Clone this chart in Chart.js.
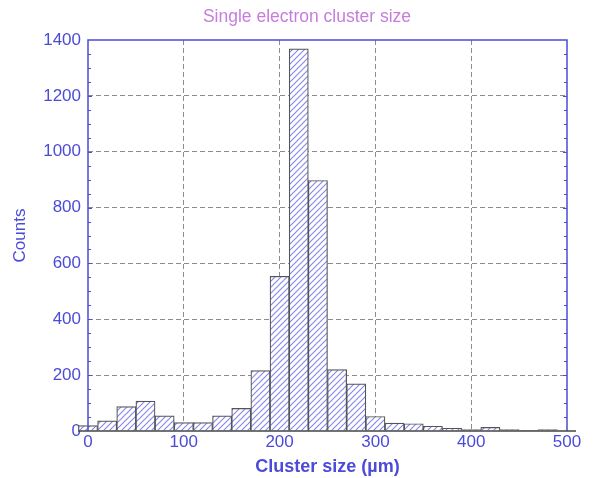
<!DOCTYPE html>
<html>
<head>
<meta charset="utf-8">
<script src="https://cdn.jsdelivr.net/npm/chart.js@4.4.1/dist/chart.umd.min.js"></script>
<style>
  html, body { margin: 0; padding: 0; background: #ffffff; }
  #wrap { width: 593px; height: 478px; }
</style>
</head>
<body>
<div id="wrap"><canvas id="c" width="593" height="478"></canvas></div>
<script>
// ---- Data (20 µm bins) ----
const binCenters = [0, 20, 40, 60, 80, 100, 120, 140, 160, 180, 200, 220, 240, 260, 280, 300, 320, 340, 360, 380, 400, 420, 440, 460, 480];
const counts     = [19, 36, 87, 107, 54, 30, 30, 54, 81, 216, 554, 1368, 897, 220, 169, 52, 28, 26, 17, 10, 5, 13, 5, 2, 5];
const xTicks = [0, 100, 200, 300, 400, 500];
const yTicks = [0, 200, 400, 600, 800, 1000, 1200, 1400];
const titleText = 'Single electron cluster size';
const xTitle = 'Cluster size (\u00B5m)';
const yTitle = 'Counts';

const BLUE = '#4b4bd8';
const FONT = '"Liberation Sans", Arial, Helvetica, sans-serif';

// hatch pattern
function makeHatch() {
  const s = 6;
  const pc = document.createElement('canvas');
  pc.width = s; pc.height = s;
  const g = pc.getContext('2d');
  g.fillStyle = '#ffffff';
  g.fillRect(0, 0, s, s);
  g.strokeStyle = '#8a8ae8';
  g.lineWidth = 1.2;
  g.beginPath();
  g.moveTo(0, s); g.lineTo(s, 0);
  g.moveTo(-s / 2, s / 2); g.lineTo(s / 2, -s / 2);
  g.moveTo(s / 2, s * 1.5); g.lineTo(s * 1.5, s / 2);
  g.stroke();
  return g.createPattern(pc, 'repeat');
}
const ctx = document.getElementById('c').getContext('2d');
const hatch = makeHatch();

const framePlugin = {
  id: 'frame',
  afterDraw(chart) {
    const a = chart.chartArea;
    const c = chart.ctx;
    const y = chart.scales.y;
    c.save();
    // title
    c.fillStyle = '#c67ddc';
    c.font = '17.5px ' + FONT;
    c.textAlign = 'center';
    c.textBaseline = 'middle';
    c.fillText(titleText, 307, 17);
    // frame
    c.strokeStyle = BLUE;
    c.lineWidth = 1.5;
    c.beginPath();
    c.moveTo(a.left, a.bottom);
    c.lineTo(a.left, a.top);
    c.lineTo(a.right, a.top);
    c.lineTo(a.right, a.bottom);
    c.stroke();
    // minor ticks on left and right
    c.lineWidth = 1.2;
    c.beginPath();
    for (let v = 50; v < 1400; v += 50) {
      const py = Math.round(y.getPixelForValue(v)) + 0.5;
      const len = (v % 200 === 0) ? 4 : 3;
      c.moveTo(a.left, py); c.lineTo(a.left + len, py);
      c.moveTo(a.right, py); c.lineTo(a.right - len, py);
    }
    c.stroke();
    // bottom baseline
    c.strokeStyle = '#444444';
    c.lineWidth = 1.5;
    c.beginPath();
    c.moveTo(a.left - 10, a.bottom);
    c.lineTo(a.right + 9, a.bottom);
    c.stroke();
    c.restore();
  }
};

new Chart(ctx, {
  type: 'bar',
  data: {
    datasets: [{
      data: binCenters.map((x, i) => ({ x: x, y: counts[i] })),
      backgroundColor: hatch,
      borderColor: '#555555',
      borderWidth: 1.2,
      barPercentage: 1.0,
      categoryPercentage: 1.0,
      clip: false
    }]
  },
  options: {
    responsive: false,
    animation: false,
    layout: { padding: { left: 0, right: 26, top: 40, bottom: 0 } },
    plugins: {
      legend: { display: false },
      tooltip: { enabled: false },
      title: { display: false }
    },
    scales: {
      x: {
        type: 'linear',
        offset: false,
        min: 0, max: 500,
        afterBuildTicks: (s) => { s.ticks = xTicks.map(v => ({ value: v })); },
        afterFit: (s) => { s.height = 47; },
        ticks: { color: BLUE, font: { family: FONT, size: 17 }, padding: 1, maxRotation: 0,
                 callback: (v) => String(v) },
        grid: {
          offset: false,
          drawTicks: false,
          color: (c) => (c.tick && (c.tick.value === 0 || c.tick.value === 500)) ? 'rgba(0,0,0,0)' : '#8c8c8c',
          lineWidth: 1
        },
        border: { display: false, dash: [5, 3] },
        title: {
          display: true, text: xTitle, color: BLUE,
          font: { family: FONT, size: 18, weight: 'bold' },
          padding: { top: 1, bottom: 0 }
        }
      },
      y: {
        type: 'linear',
        min: 0, max: 1400,
        afterBuildTicks: (s) => { s.ticks = yTicks.map(v => ({ value: v })); },
        afterFit: (s) => { s.width = 88; },
        ticks: { color: BLUE, font: { family: FONT, size: 17 }, padding: 7,
                 callback: (v) => String(v) },
        grid: {
          drawTicks: false,
          color: (c) => (c.tick && (c.tick.value === 0 || c.tick.value === 1400)) ? 'rgba(0,0,0,0)' : '#8c8c8c',
          lineWidth: 1
        },
        border: { display: false, dash: [5, 3] },
        title: {
          display: true, text: yTitle, color: BLUE,
          font: { family: FONT, size: 17, weight: 'normal' },
          padding: { top: 10, bottom: 20 }
        }
      }
    }
  },
  plugins: [framePlugin]
});
</script>
</body>
</html>
